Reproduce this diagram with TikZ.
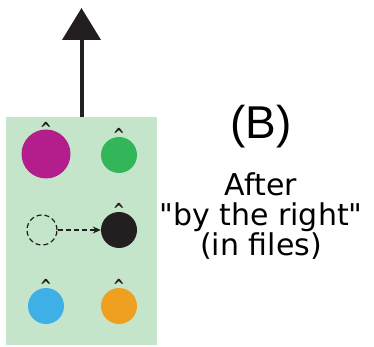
\documentclass[tikz,border=0pt]{standalone}
\usepackage{fontspec}
\setmainfont{DejaVu Sans}
\newfontfamily\labelfont{Liberation Sans}
\usetikzlibrary{positioning, arrows.meta}
\definecolor{panelgreen}{HTML}{C5E5CB}
\definecolor{dotmagenta}{HTML}{B41E8C}
\definecolor{dotgreen}{HTML}{33B559}
\definecolor{dotblack}{HTML}{231F20}
\definecolor{dotblue}{HTML}{3FB0E6}
\definecolor{dotorange}{HTML}{F0A020}
\tikzset{dot/.style={circle, minimum size=36pt, inner sep=0pt},
hat/.style={font=\bfseries\fontsize{18}{18}\selectfont, inner sep=0pt, node distance=-5pt, text=dotblack, xscale=0.8},
line/.style={-{Triangle[length=32pt,width=38pt]}, line width=4pt, dotblack},
moved/.style={dash pattern=on 5pt off 3pt, line width=1.2pt, dotblack}
}

\begin{document}
\begin{tikzpicture}[x=1pt,y=-1pt]
\useasboundingbox (0,0) rectangle (374,347);
\node[fill=panelgreen, minimum width=151pt, minimum height=228pt, inner sep=0pt] (panel) at (81.5,231) {};
\coordinate (top) at (81.5,8);
\draw[line] (panel.north) -- (top);
% circles
\node[dot, fill=dotmagenta, minimum size=49pt] (mg) at (46,154) {};
\node[dot, fill=dotgreen] (gr) at (119,155) {};
\node[dot, draw, moved, minimum size=30pt] (ghost) at (42,230) {};
\node[dot, fill=dotblack] (bk) at (119,230) {};
\node[dot, fill=dotblue] (bl) at (46,306) {};
\node[dot, fill=dotorange] (or) at (119,306) {};
\node[hat, above=-6pt of mg] (mghat) {\textasciicircum};
\node[hat, above=of gr] (grhat) {\textasciicircum};
\node[hat, above=of bk] (bkhat) {\textasciicircum};
\node[hat, above=of bl] (blhat) {\textasciicircum};
\node[hat, above=of or] (orhat) {\textasciicircum};
\draw[moved, -{Stealth[length=8pt,width=7pt]}] (ghost) -- (bk);
% caption
\node[font=\labelfont\fontsize{46}{46}\selectfont] (tag) at (261,127) {(B)};
\node[align=center, font=\fontsize{30}{30}\selectfont, below=17pt of tag] (caption) {After\\\textquotedbl by the right\textquotedbl\\(in files)};
\end{tikzpicture}
\end{document}
